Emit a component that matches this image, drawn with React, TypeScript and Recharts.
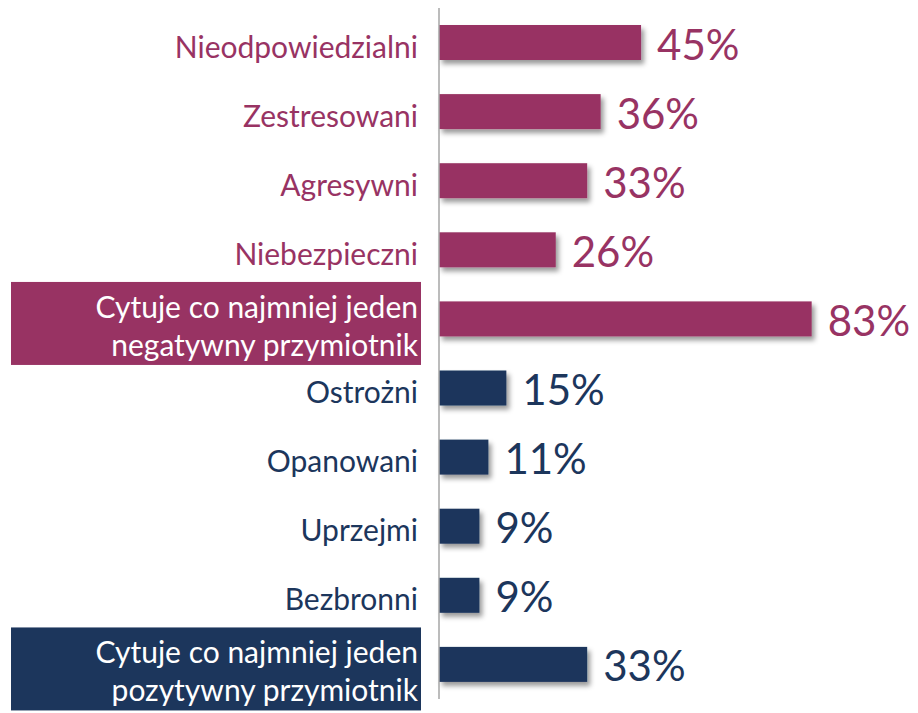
import React from 'react';
import { Bar, BarChart, Cell, LabelList, XAxis, YAxis } from 'recharts';

// --- data ---
const categories = [
  'Nieodpowiedzialni',
  'Zestresowani',
  'Agresywni',
  'Niebezpieczni',
  'Cytuje co najmniej jeden\nnegatywny przymiotnik',
  'Ostrożni',
  'Opanowani',
  'Uprzejmi',
  'Bezbronni',
  'Cytuje co najmniej jeden\npozytywny przymiotnik',
];
const values = [45, 36, 33, 26, 83, 15, 11, 9, 9, 33];
const groups = ['neg', 'neg', 'neg', 'neg', 'neg', 'pos', 'pos', 'pos', 'pos', 'pos'];
const summaryRows = [4, 9];

const COLORS: Record<string, string> = { neg: '#983363', pos: '#1C365C' };
const FONT = 'Lato, "Noto Sans", sans-serif';

const data = categories.map((c, i) => ({ name: c, value: values[i], group: groups[i] }));

const CategoryTick = (props: any) => {
  const { y, payload, index } = props;
  const color = COLORS[groups[index]];
  const lines = String(payload.value).split('\n');
  if (summaryRows.includes(index)) {
    return (
      <g>
        <rect x={11} y={y - 37} width={410} height={83} fill={color} />
        {lines.map((l, i) => (
          <text key={i} x={418} y={y - 1 + i * 38} textAnchor="end" fill="#fff"
            fontFamily={FONT} fontSize={30}>{l}</text>
        ))}
      </g>
    );
  }
  return (
    <text x={418} y={y + 15} textAnchor="end" fill={color} fontFamily={FONT} fontSize={30}>
      {payload.value}
    </text>
  );
};

const ShadowBar = (props: any) => {
  const { x, y, width, height, fill } = props;
  return <rect x={x} y={y} width={width} height={height} fill={fill} filter="url(#barShadow)" />;
};

const ValueLabel = (props: any) => {
  const { x, y, width, height, value, index } = props;
  return (
    <text x={x + width + 16} y={y + height / 2 + 17} fill={COLORS[groups[index]]}
      fontFamily={FONT} fontSize={42}>{value}%</text>
  );
};

export default function App() {
  return (
    <div style={{ position: 'absolute', left: 0, top: 0, background: '#fff' }}>
      <BarChart width={918} height={713} data={data} layout="vertical"
        margin={{ top: 8, right: 30, bottom: 14, left: 0 }}>
        <defs>
          <filter id="barShadow" x="-10%" y="-30%" width="130%" height="180%">
            <feDropShadow dx={3} dy={4} stdDeviation={2.5} floodColor="#000" floodOpacity={0.4} />
          </filter>
        </defs>
        <XAxis type="number" domain={[0, 100]} hide />
        <YAxis type="category" dataKey="name" width={439} axisLine={{ stroke: '#A6A6A6', strokeWidth: 1.5 }}
          tickLine={false} tick={<CategoryTick />} interval={0} />
        <Bar dataKey="value" barSize={35} shape={<ShadowBar />} isAnimationActive={false}>
          {data.map((d, i) => (
            <Cell key={i} fill={COLORS[d.group]} />
          ))}
          <LabelList dataKey="value" content={<ValueLabel />} />
        </Bar>
      </BarChart>
    </div>
  );
}
